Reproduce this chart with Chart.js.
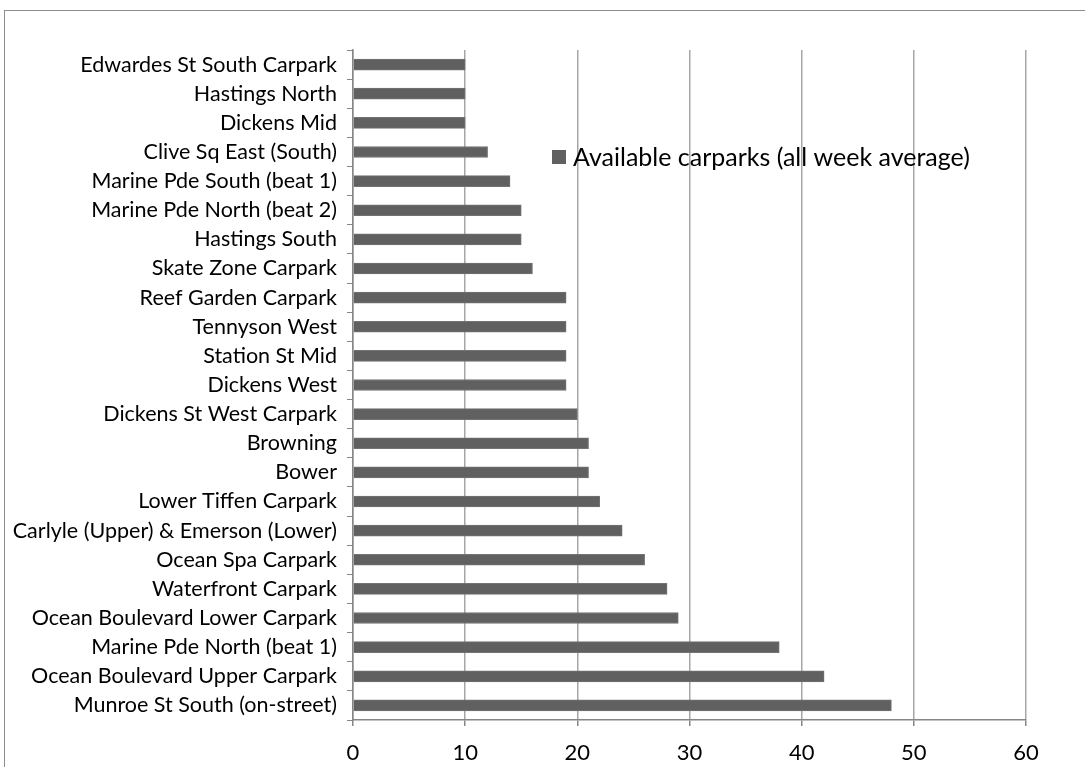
<!DOCTYPE html>
<html>
<head>
<meta charset="utf-8">
<title>Available carparks</title>
<script src="https://cdn.jsdelivr.net/npm/chart.js@4.4.1/dist/chart.umd.min.js"></script>
<style>
    html, body { margin: 0; padding: 0; background: #fff; overflow: hidden; }
    #frame {
        position: absolute; left: 4px; top: 10px;
        width: 1200px; height: 900px;
        border: 1px solid #8c8c8c; box-sizing: border-box;
    }
    #wrap { position: absolute; left: 0; top: 0; width: 1085px; height: 767px; }
</style>
</head>
<body>
<div id="frame"></div>
<div id="wrap"><canvas id="carparkChart"></canvas></div>
<script>
// carpark names, top to bottom as in the chart
const carparks = [
    'Edwardes St South Carpark',
    'Hastings North',
    'Dickens Mid',
    'Clive Sq East (South)',
    'Marine Pde South (beat 1)',
    'Marine Pde North (beat 2)',
    'Hastings South',
    'Skate Zone Carpark',
    'Reef Garden Carpark',
    'Tennyson West',
    'Station St Mid',
    'Dickens West',
    'Dickens St West Carpark',
    'Browning',
    'Bower',
    'Lower Tiffen Carpark',
    'Carlyle (Upper) & Emerson (Lower)',
    'Ocean Spa Carpark',
    'Waterfront Carpark',
    'Ocean Boulevard Lower Carpark',
    'Marine Pde North (beat 1)',
    'Ocean Boulevard Upper Carpark',
    'Munroe St South (on-street)'
];

const availableAvg = [10, 10, 10, 12, 14, 15, 15, 16, 19, 19, 19, 19, 20, 21, 21, 22, 24, 26, 28, 29, 38, 42, 48];

const xTicks = [0, 10, 20, 30, 40, 50, 60];
const seriesName = 'Available carparks (all week average)';

const barColor = '#606060';
const gridColor = '#a6a6a6';
const axisColor = '#868686';
const fontFamily = 'Lato, "Open Sans", sans-serif';

// legend sits inside the plot, like the original
const insideLegend = {
    id: 'insideLegend',
    afterDatasetsDraw(chart) {
        const ctx = chart.ctx;
        const area = chart.chartArea;
        const x = area.left + 199;
        const y = area.top + 107;
        ctx.save();
        ctx.fillStyle = barColor;
        ctx.fillRect(x, y - 7, 14, 14);
        ctx.fillStyle = '#000';
        ctx.font = '25px ' + fontFamily;
        ctx.textBaseline = 'middle';
        ctx.fillText(seriesName, x + 21, y + 1);
        ctx.restore();
    }
};

const ctx = document.getElementById('carparkChart').getContext('2d');
new Chart(ctx, {
    type: 'bar',
    data: {
        labels: carparks,
        datasets: [{
            label: seriesName,
            data: availableAvg,
            backgroundColor: barColor,
            borderColor: '#737373',
            borderWidth: 1,
            barThickness: 11
        }]
    },
    options: {
        indexAxis: 'y',
        responsive: true,
        maintainAspectRatio: false,
        animation: false,
        layout: { padding: { top: 50, right: 59, bottom: 0, left: 0 } },
        plugins: {
            legend: { display: false },
            tooltip: { enabled: false }
        },
        scales: {
            x: {
                min: 0,
                max: 60,
                afterBuildTicks: (axis) => { axis.ticks = xTicks.map(v => ({ value: v })); },
                afterFit: (axis) => { axis.height = 47; },
                ticks: {
                    color: '#000',
                    font: { family: fontFamily, size: 22 },
                    padding: 14
                },
                grid: {
                    color: gridColor,
                    tickColor: axisColor,
                    tickLength: 6,
                    lineWidth: 1.5
                },
                border: { color: axisColor, width: 1.5 }
            },
            y: {
                afterFit: (axis) => { axis.width = 353; },
                ticks: {
                    color: '#000',
                    font: { family: fontFamily, size: 21.5 },
                    padding: 10
                },
                grid: {
                    drawOnChartArea: false,
                    drawTicks: true,
                    tickLength: 6,
                    tickColor: axisColor
                },
                border: { color: axisColor, width: 1.5 }
            }
        }
    },
    plugins: [insideLegend]
});
</script>
</body>
</html>
